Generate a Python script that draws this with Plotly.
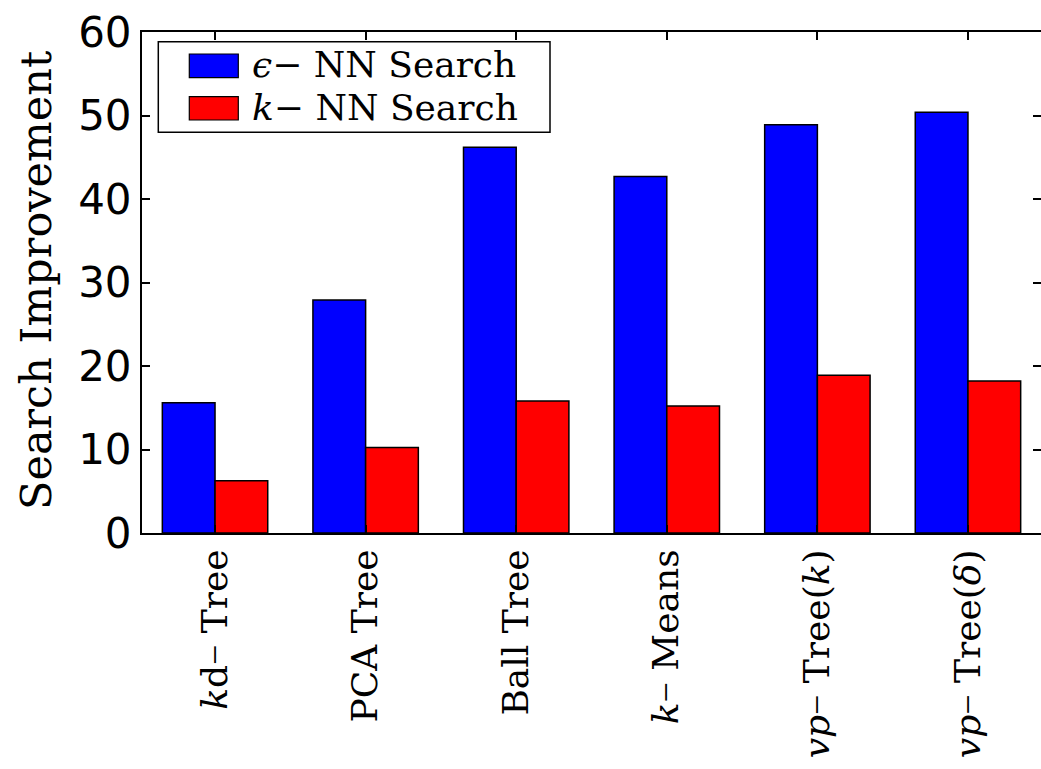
import plotly.graph_objects as go

# Data
categories = ["<i>k</i>d− Tree", "PCA Tree", "Ball Tree", "<i>k</i>− Means",
              "<i>vp</i>− Tree(<i>k</i>)", "<i>vp</i>− Tree(<i>δ</i>)"]
series_names = ["<i>ϵ</i>− NN Search", "<i>k</i>− NN Search"]
eps_nn = [15.6, 27.9, 46.2, 42.7, 48.9, 50.4]
k_nn = [6.25, 10.25, 15.8, 15.2, 18.9, 18.2]
series_colors = ["#0000ff", "#ff0000"]
y_ticks = [0, 10, 20, 30, 40, 50, 60]

SERIF = "DejaVu Serif"
SANS = "DejaVu Sans"

W, H = 1041, 769
L, R, T, B = 142, 0, 32, 236
PW, PH = W - L - R, H - T - B

xs = list(range(len(categories)))

# narrower minus glyph for the rotated category labels
tick_text = [c.replace("−", "<span style='font-family:Liberation Serif'>−</span>")
             for c in categories]

fig = go.Figure()
for name, vals, col in zip(series_names, [eps_nn, k_nn], series_colors):
    fig.add_trace(go.Bar(
        x=xs, y=vals, name=name, marker_color=col,
        marker_line_color="black", marker_line_width=1.5,
        showlegend=False,
    ))

# empty trace so the right-hand tick axis is drawn
fig.add_trace(go.Scatter(x=[], y=[], yaxis="y2", showlegend=False, hoverinfo="skip"))


def px_x(px):
    return (px - L) / PW


def px_y(py):
    return (H - B - py) / PH


shapes = []
annotations = []

# legend box
shapes.append(dict(type="rect", xref="paper", yref="paper",
                   x0=px_x(158.3), x1=px_x(550), y0=px_y(132.3), y1=px_y(41.7),
                   fillcolor="white", line=dict(color="black", width=1.5), layer="above"))
rows = [(54, 77.7), (96.7, 120)]
for (top, bot), name, col in zip(rows, series_names, series_colors):
    shapes.append(dict(type="rect", xref="paper", yref="paper",
                       x0=px_x(189.3), x1=px_x(238.3), y0=px_y(bot), y1=px_y(top),
                       fillcolor=col, line=dict(color="black", width=1.2), layer="above"))
    annotations.append(dict(text=name, xref="paper", yref="paper",
                            x=px_x(251), y=px_y((top + bot) / 2 - 1),
                            xanchor="left", yanchor="middle", showarrow=False,
                            borderpad=0,
                            font=dict(family=SERIF, size=36, color="black")))

# y-axis title
annotations.append(dict(text="Search Improvement", xref="paper", yref="paper",
                        x=px_x(36), y=px_y(281), xanchor="center", yanchor="middle",
                        textangle=-90, showarrow=False,
                        font=dict(family=SERIF, size=43, color="black")))

fig.update_layout(
    width=W, height=H,
    margin=dict(l=L, r=R, t=T, b=B, pad=0),
    paper_bgcolor="white", plot_bgcolor="white",
    barmode="group", bargap=0.3, bargroupgap=0,
    shapes=shapes, annotations=annotations,
    xaxis=dict(
        range=[-0.485, 5.485], tickvals=xs, ticktext=tick_text,
        tickangle=-90, ticks="inside", ticklen=8, tickwidth=1.5, tickcolor="black",
        showline=True, linecolor="black", linewidth=2, mirror="ticks",
        showgrid=False, zeroline=False, automargin=False,
        tickfont=dict(family=SERIF, size=36, color="black"),
    ),
    yaxis=dict(
        range=[0, 60], tickvals=y_ticks, ticks="inside", ticklen=8, tickwidth=1.5,
        tickcolor="black", showline=True, linecolor="black", linewidth=2,
        showgrid=False, zeroline=False, automargin=False,
        tickfont=dict(family=SANS, size=42, color="black"),
    ),
    yaxis2=dict(
        range=[0, 60], tickvals=y_ticks, overlaying="y", side="right",
        ticks="inside", ticklen=8, tickwidth=1.5, tickcolor="black",
        showticklabels=False, showline=False, showgrid=False, zeroline=False,
        automargin=False,
    ),
)

fig.write_html("out.html")
